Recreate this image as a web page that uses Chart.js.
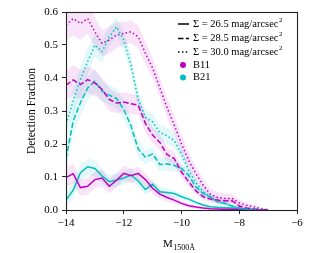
<!DOCTYPE html>
<html>
<head>
<meta charset="utf-8">
<script src="https://cdn.jsdelivr.net/npm/chart.js@4.4.1/dist/chart.umd.min.js"></script>
<style>
html,body{margin:0;padding:0;background:#fff;}
canvas{display:block;}
</style>
</head>
<body>
<canvas id="c" width="331" height="253"></canvas>
<script>
// Absolute magnitude grid (M_1500Å)
const mags = [-14,-13.75,-13.5,-13.25,-13,-12.75,-12.5,-12.25,-12,-11.75,-11.5,-11.25,-11,-10.75,-10.5,-10.25,-10,-9.75,-9.5,-9.25,-9,-8.75,-8.5,-8.25,-8,-7.75,-7.5,-7.25,-7];

// B11 (magenta)
const b11_265 = [0.098,0.110,0.068,0.072,0.092,0.097,0.072,0.090,0.111,0.104,0.111,0.092,0.066,0.048,0.038,0.030,0.020,0.013,0.009,0.006,0.004,0.003,0.002,0.002,0.002,0.001,0.001,0,0];
const b11_285 = [0.378,0.394,0.380,0.395,0.385,0.365,0.335,0.324,0.327,0.322,0.318,0.262,0.227,0.205,0.168,0.156,0.115,0.085,0.058,0.040,0.033,0.030,0.028,0.028,0.012,0.006,0.003,0.001,0];
const b11_300 = [0.560,0.580,0.565,0.580,0.540,0.505,0.515,0.530,0.535,0.540,0.525,0.475,0.430,0.370,0.310,0.257,0.200,0.150,0.110,0.075,0.048,0.038,0.035,0.035,0.022,0.014,0.010,0.004,0.001];
// B21 (cyan)
const b21_265 = [0.030,0.060,0.113,0.131,0.126,0.103,0.086,0.091,0.097,0.106,0.088,0.062,0.078,0.055,0.053,0.050,0.040,0.033,0.023,0.015,0.010,0.008,0.007,0.006,0.005,0.003,0.002,0.001,0];
const b21_285 = [0.155,0.270,0.325,0.370,0.390,0.360,0.348,0.338,0.305,0.255,0.185,0.160,0.170,0.138,0.140,0.135,0.126,0.105,0.070,0.050,0.040,0.025,0.020,0.012,0.005,0.002,0.001,0,0];
const b21_300 = [0.260,0.330,0.395,0.450,0.500,0.480,0.525,0.555,0.515,0.440,0.335,0.280,0.267,0.235,0.225,0.210,0.170,0.120,0.082,0.055,0.038,0.025,0.020,0.012,0.006,0.003,0.001,0,0];

// Uncertainty half-widths (shaded bands)
const e_b11_265 = [0.030,0.030,0.025,0.025,0.025,0.025,0.022,0.022,0.022,0.022,0.020,0.020,0.018,0.015,0.012,0.010,0.008,0.006,0.005,0.004,0.003,0.003,0.002,0.002,0.002,0.001,0.001,0,0];
const e_b11_285 = [0.045,0.045,0.045,0.040,0.040,0.035,0.035,0.030,0.030,0.030,0.030,0.028,0.025,0.025,0.022,0.020,0.018,0.015,0.012,0.010,0.010,0.010,0.008,0.008,0.006,0.004,0.003,0.002,0.001];
const e_b11_300 = [0.050,0.050,0.050,0.045,0.045,0.040,0.040,0.040,0.035,0.035,0.035,0.035,0.030,0.030,0.030,0.030,0.028,0.025,0.022,0.020,0.018,0.015,0.015,0.012,0.010,0.008,0.006,0.004,0.002];
const e_b21_265 = [0.025,0.025,0.025,0.025,0.025,0.022,0.020,0.020,0.020,0.020,0.018,0.016,0.016,0.014,0.012,0.010,0.009,0.008,0.006,0.005,0.004,0.004,0.003,0.003,0.003,0.002,0.001,0.001,0];
const e_b21_285 = [0.040,0.040,0.040,0.035,0.035,0.030,0.030,0.030,0.030,0.028,0.025,0.022,0.020,0.020,0.020,0.018,0.016,0.014,0.012,0.010,0.008,0.007,0.006,0.005,0.003,0.002,0.001,0,0];
const e_b21_300 = [0.040,0.040,0.040,0.040,0.035,0.035,0.030,0.030,0.030,0.030,0.030,0.025,0.025,0.025,0.025,0.022,0.020,0.018,0.015,0.012,0.010,0.008,0.007,0.006,0.004,0.003,0.002,0.001,0];

const xTicks = [-14,-12,-10,-8,-6];
const yTicks = [0.0,0.1,0.2,0.3,0.4,0.5,0.6];
const legendLabels = ['\u03A3 = 26.5 mag/arcsec','\u03A3 = 28.5 mag/arcsec','\u03A3 = 30.0 mag/arcsec','B11','B21'];
const xTitleMain = 'M';
const xTitleSub = '1500\u00C5';
const yTitle = 'Detection Fraction';

const MAG = '#bf00bf', CYA = '#00bfbf';
const MAG_BAND = 'rgba(191,0,191,0.11)', CYA_BAND = 'rgba(0,191,191,0.11)';
const DOT = [1.5,2.4], DASH = [5.5,2.4];
const FONT = '"Liberation Serif", "DejaVu Serif", serif';

function pts(vals){ return mags.map((m,i)=>({x:m,y:vals[i]})); }
function band(vals, err, sign){ return mags.map((m,i)=>({x:m,y:Math.max(0, vals[i]+sign*err[i])})); }

const series = [
  {v:b11_300,e:e_b11_300,c:MAG,b:MAG_BAND,d:DOT},
  {v:b21_300,e:e_b21_300,c:CYA,b:CYA_BAND,d:DOT},
  {v:b11_285,e:e_b11_285,c:MAG,b:MAG_BAND,d:DASH},
  {v:b21_285,e:e_b21_285,c:CYA,b:CYA_BAND,d:DASH},
  {v:b11_265,e:e_b11_265,c:MAG,b:MAG_BAND,d:[]},
  {v:b21_265,e:e_b21_265,c:CYA,b:CYA_BAND,d:[]}
];

const datasets = [];
series.forEach(s=>{
  datasets.push({data:band(s.v,s.e,-1),borderWidth:0,pointRadius:0,fill:false,order:10,borderColor:'rgba(0,0,0,0)'});
  datasets.push({data:band(s.v,s.e,1),borderWidth:0,pointRadius:0,fill:'-1',backgroundColor:s.b,order:10,borderColor:'rgba(0,0,0,0)'});
});
series.forEach(s=>{
  datasets.push({data:pts(s.v),borderColor:s.c,borderWidth:1.5,borderDash:s.d,pointRadius:0,fill:false,tension:0,order:1});
});

const framePlugin = {
  id:'frame',
  afterDraw(chart){
    const {ctx, chartArea:a} = chart;
    ctx.save();
    ctx.strokeStyle = '#222';
    ctx.lineWidth = 1.1;
    ctx.setLineDash([]);
    ctx.strokeRect(Math.round(a.left)+0.5, Math.round(a.top)+0.5, Math.round(a.right)-Math.round(a.left), Math.round(a.bottom)-Math.round(a.top));
    // legend
    const lx0 = 178, lx1 = 189, tx = 193;
    const ys = [24, 38.5, 52, 65, 77.5];
    const dashes = [[], DASH, DOT];
    ctx.textBaseline = 'middle';
    ctx.fillStyle = '#000';
    for (let i=0;i<3;i++){
      ctx.strokeStyle = '#000';
      ctx.lineWidth = 1.5;
      ctx.setLineDash(dashes[i]);
      ctx.beginPath(); ctx.moveTo(lx0, ys[i]); ctx.lineTo(lx1, ys[i]); ctx.stroke();
      ctx.setLineDash([]);
      ctx.font = '10.5px ' + FONT;
      ctx.fillText(legendLabels[i], tx, ys[i]);
      const w = ctx.measureText(legendLabels[i]).width;
      ctx.font = '7px ' + FONT;
      ctx.fillText('2', tx + w + 0.5, ys[i]-4);
    }
    const cols = [MAG, CYA];
    for (let j=0;j<2;j++){
      ctx.fillStyle = cols[j];
      ctx.beginPath(); ctx.arc(183, ys[3+j], 3, 0, Math.PI*2); ctx.fill();
      ctx.fillStyle = '#000';
      ctx.font = '10.5px ' + FONT;
      ctx.fillText(legendLabels[3+j], tx, ys[3+j]);
    }
    // x axis title with subscript
    ctx.textBaseline = 'alphabetic';
    ctx.font = '11px ' + FONT;
    ctx.fillText(xTitleMain, 163, 247);
    const mw = ctx.measureText(xTitleMain).width;
    ctx.font = '8px ' + FONT;
    ctx.fillText(xTitleSub, 163 + mw + 0.5, 250);
    ctx.restore();
  }
};

new Chart(document.getElementById('c'), {
  type:'line',
  data:{datasets},
  options:{
    responsive:false,
    animation:false,
    devicePixelRatio:1,
    layout:{padding:{left:25,right:34,top:12,bottom:0}},
    plugins:{legend:{display:false},tooltip:{enabled:false}},
    scales:{
      x:{
        type:'linear',min:-14,max:-6,
        afterFit(s){ s.height = 43; },
        afterBuildTicks(s){ s.ticks = xTicks.map(v=>({value:v})); },
        ticks:{color:'#000',font:{family:FONT,size:11},padding:3,maxRotation:0,
          callback:v=>String(v).replace('-','\u2212')},
        grid:{drawOnChartArea:false,drawTicks:true,tickLength:4,color:'#222'},
        border:{display:true,color:'#222',width:1}
      },
      y:{
        type:'linear',min:0,max:0.6,
        afterFit(s){ s.width = 41; },
        afterBuildTicks(s){ s.ticks = yTicks.map(v=>({value:v})); },
        ticks:{color:'#000',font:{family:FONT,size:11},padding:4,
          callback:v=>Number(v).toFixed(1)},
        grid:{drawOnChartArea:false,drawTicks:true,tickLength:4,color:'#222'},
        border:{display:true,color:'#222',width:1},
        title:{display:true,text:yTitle,color:'#000',font:{family:FONT,size:11.5},padding:{top:0,bottom:4}}
      }
    }
  },
  plugins:[framePlugin]
});
</script>
</body>
</html>
